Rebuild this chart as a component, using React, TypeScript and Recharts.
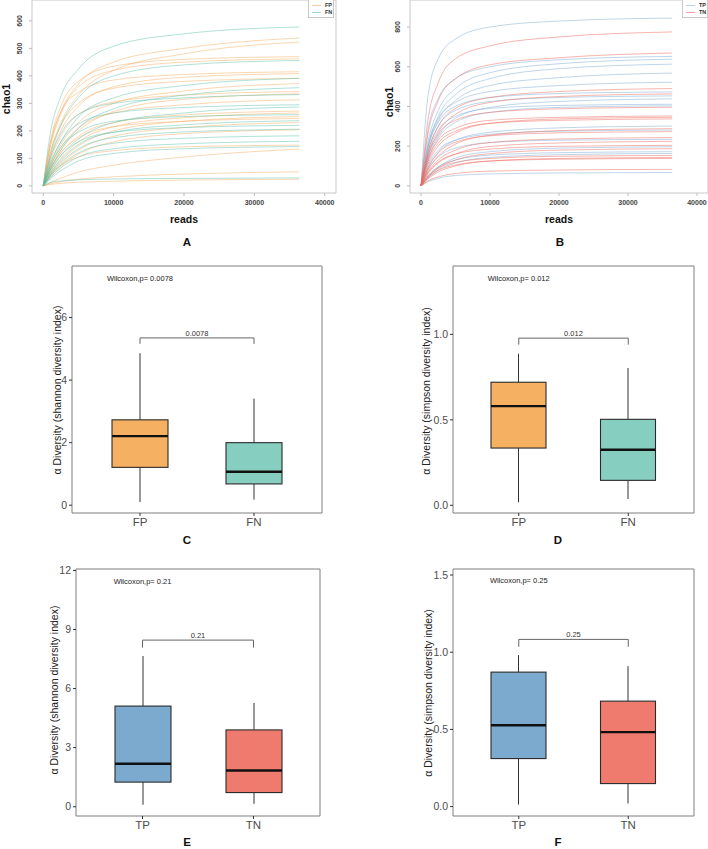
import React from 'react';
import {
  LineChart,
  Line,
  ComposedChart,
  Bar,
  XAxis,
  YAxis,
  ReferenceArea,
  ReferenceLine,
  ReferenceDot,
} from 'recharts';

// ---------- rarefaction curves (A, B) ----------
const readSteps = [0, 1000, 2500, 5000, 10000, 20000, 36400];
const readTicks = [0, 10000, 20000, 30000, 40000];
const readDomain = [-1600, 41600];

// chao1 at each step of readSteps
const fpCurves = [
  [0, 150, 270, 370, 450, 500, 538],
  [0, 120, 230, 330, 420, 480, 523],
  [0, 160, 290, 380, 435, 460, 470],
  [0, 140, 260, 360, 420, 450, 462],
  [0, 150, 270, 340, 385, 405, 415],
  [0, 100, 200, 290, 360, 395, 408],
  [0, 120, 220, 300, 355, 380, 391],
  [0, 70, 150, 230, 300, 345, 372],
  [0, 90, 180, 260, 305, 330, 343],
  [0, 60, 130, 200, 270, 315, 335],
  [0, 70, 140, 210, 265, 295, 313],
  [0, 60, 120, 180, 230, 258, 272],
  [0, 45, 100, 160, 215, 248, 265],
  [0, 40, 90, 145, 200, 235, 252],
  [0, 60, 120, 175, 215, 235, 245],
  [0, 35, 80, 130, 180, 212, 230],
  [0, 30, 70, 115, 160, 190, 204],
  [0, 40, 75, 105, 128, 142, 148],
  [0, 12, 28, 50, 75, 105, 134],
  [0, 8, 15, 24, 33, 43, 51],
  [0, 5, 9, 13, 17, 21, 24],
];
const fnCurves = [
  [0, 190, 325, 425, 508, 553, 578],
  [0, 110, 220, 320, 400, 440, 456],
  [0, 80, 160, 250, 320, 365, 391],
  [0, 60, 130, 210, 280, 330, 357],
  [0, 100, 190, 260, 300, 320, 332],
  [0, 80, 160, 225, 265, 285, 295],
  [0, 50, 110, 170, 230, 265, 287],
  [0, 70, 140, 195, 235, 252, 259],
  [0, 45, 95, 150, 195, 222, 237],
  [0, 55, 110, 160, 195, 212, 220],
  [0, 40, 85, 135, 175, 196, 206],
  [0, 35, 75, 120, 155, 173, 182],
  [0, 30, 65, 105, 135, 153, 162],
  [0, 25, 55, 90, 118, 135, 143],
  [0, 12, 18, 22, 25, 27, 29],
];
const tpCurves = [
  [0, 450, 640, 740, 800, 830, 845],
  [0, 280, 440, 540, 600, 635, 652],
  [0, 220, 380, 490, 570, 615, 638],
  [0, 200, 350, 460, 540, 590, 613],
  [0, 190, 330, 430, 505, 545, 568],
  [0, 200, 340, 420, 475, 505, 522],
  [0, 190, 320, 400, 445, 465, 473],
  [0, 170, 300, 380, 425, 445, 453],
  [0, 140, 250, 340, 395, 425, 438],
  [0, 160, 280, 350, 390, 405, 411],
  [0, 130, 240, 320, 370, 395, 403],
  [0, 90, 170, 230, 270, 292, 301],
  [0, 100, 180, 230, 260, 275, 281],
  [0, 80, 145, 190, 218, 230, 234],
  [0, 50, 95, 140, 172, 190, 197],
  [0, 50, 95, 130, 155, 167, 172],
  [0, 40, 80, 115, 143, 157, 163],
  [0, 20, 38, 52, 60, 65, 67],
];
const tnCurves = [
  [0, 330, 520, 640, 705, 750, 775],
  [0, 260, 430, 540, 610, 645, 669],
  [0, 170, 300, 390, 445, 475, 490],
  [0, 150, 270, 360, 420, 450, 463],
  [0, 150, 260, 330, 370, 388, 396],
  [0, 130, 230, 290, 330, 345, 352],
  [0, 110, 200, 265, 315, 337, 345],
  [0, 120, 215, 275, 315, 330, 337],
  [0, 80, 150, 210, 255, 278, 288],
  [0, 90, 165, 220, 252, 267, 273],
  [0, 70, 130, 180, 218, 236, 243],
  [0, 60, 115, 160, 198, 216, 224],
  [0, 65, 120, 160, 185, 199, 204],
  [0, 45, 90, 130, 162, 180, 187],
  [0, 45, 88, 118, 138, 149, 153],
  [0, 35, 70, 100, 125, 138, 143],
  [0, 40, 78, 105, 125, 134, 138],
  [0, 25, 45, 62, 74, 80, 83],
];

// ---------- alpha diversity boxplots (C-F): min, q1, median, q3, max ----------
const fGroups = ['FP', 'FN'];
const tGroups = ['TP', 'TN'];
const fpShannon = [0.1, 1.21, 2.21, 2.73, 4.86];
const fnShannon = [0.18, 0.68, 1.07, 2.0, 3.41];
const fpSimpson = [0.018, 0.335, 0.58, 0.72, 0.887];
const fnSimpson = [0.037, 0.146, 0.325, 0.503, 0.803];
const tpShannon = [0.1, 1.25, 2.18, 5.11, 7.65];
const tnShannon = [0.15, 0.72, 1.84, 3.9, 5.27];
const tpSimpson = [0.013, 0.311, 0.527, 0.871, 0.981];
const tnSimpson = [0.02, 0.149, 0.482, 0.683, 0.91];
const pValues = ['0.0078', '0.012', '0.21', '0.25'];

const FONT = "'Liberation Sans', Arial, Helvetica, sans-serif";
const COLORS = {
  fpLine: '#F5AE62',
  fnLine: '#52BDA8',
  tpLine: '#86B2D8',
  tnLine: '#EE685B',
  fpBox: '#F5B062',
  fnBox: '#86CEBF',
  tpBox: '#7BAACE',
  tnBox: '#EF7A6E',
};

function buildRows(groups: { key: string; curves: number[][] }[]) {
  return readSteps.map((reads, i) => {
    const row: Record<string, number> = { reads };
    groups.forEach((g) =>
      g.curves.forEach((c, j) => {
        row[`${g.key}${j}`] = c[i];
      }),
    );
    return row;
  });
}

function RotatedTick(props: any) {
  const { x, y, payload } = props;
  return (
    <text
      x={x}
      y={y}
      transform={`rotate(-90 ${x} ${y})`}
      textAnchor="middle"
      fontSize={7}
      fontWeight="bold"
      fill="#444"
    >
      {payload.value}
    </text>
  );
}

function RarefactionChart({
  rows,
  series,
  yDomain,
  yTicks,
  yAxisWidth,
  marginRight,
}: {
  rows: Record<string, number>[];
  series: { key: string; color: string; opacity: number }[];
  yDomain: number[];
  yTicks: number[];
  yAxisWidth: number;
  marginRight: number;
}) {
  return (
    <LineChart
      width={354}
      height={250}
      data={rows}
      margin={{ top: 0, right: marginRight, bottom: 0, left: 0 }}
    >
      <XAxis
        dataKey="reads"
        type="number"
        domain={readDomain}
        allowDataOverflow
        ticks={readTicks}
        interval={0}
        height={57}
        tickSize={3}
        tickMargin={4}
        axisLine={false}
        tickLine={{ stroke: '#bbb' }}
        tick={{ fontSize: 7, fontWeight: 'bold', fill: '#444' }}
      />
      <YAxis
        type="number"
        domain={yDomain}
        allowDataOverflow
        ticks={yTicks}
        interval={0}
        width={yAxisWidth}
        tickSize={3}
        tickMargin={7}
        axisLine={false}
        tickLine={{ stroke: '#bbb' }}
        tick={(p: any) => <RotatedTick {...p} />}
      />
      <ReferenceArea
        x1={readDomain[0]}
        x2={readDomain[1]}
        y1={yDomain[0]}
        y2={yDomain[1]}
        fill="none"
        stroke="#c8c8c8"
        ifOverflow="visible"
      />
      {series.map((s) => (
        <Line
          key={s.key}
          dataKey={s.key}
          type="monotone"
          stroke={s.color}
          strokeOpacity={s.opacity}
          strokeWidth={0.9}
          dot={false}
          isAnimationActive={false}
        />
      ))}
    </LineChart>
  );
}

function BoxShape(props: any) {
  const { x, y, width, height, payload } = props;
  const [lo, q1, med, q3, hi] = payload.stats;
  const top = Math.min(y, y + height);
  const h = Math.abs(height);
  const py = (v: number) => top + ((hi - v) / (hi - lo)) * h;
  const cx = x + width / 2;
  return (
    <g>
      <line x1={cx} x2={cx} y1={py(hi)} y2={py(q3)} stroke="#333" strokeWidth={1} />
      <line x1={cx} x2={cx} y1={py(q1)} y2={py(lo)} stroke="#333" strokeWidth={1} />
      <rect
        x={x}
        y={py(q3)}
        width={width}
        height={py(q1) - py(q3)}
        fill={payload.fill}
        stroke="#2b2b2b"
        strokeWidth={1.1}
      />
      <line x1={x} x2={x + width} y1={py(med)} y2={py(med)} stroke="#111" strokeWidth={2.4} />
    </g>
  );
}

function BoxChart({
  groups,
  stats,
  colors,
  yDomain,
  yTicks,
  decimals,
  pText,
  wilcoxY,
  bracketY,
  tipY,
  margin,
  barSize,
  height,
}: any) {
  const data = groups.map((name: string, i: number) => ({
    name,
    range: [stats[i][0], stats[i][4]],
    stats: stats[i],
    fill: colors[i],
  }));
  return (
    <ComposedChart width={354} height={height} data={data} margin={margin}>
      <XAxis
        dataKey="name"
        padding={{ left: 11, right: 11 }}
        height={22}
        tickSize={3}
        tickMargin={2}
        axisLine={{ stroke: '#7f7f7f' }}
        tickLine={{ stroke: '#333' }}
        tick={{ fontSize: 11.5, fill: '#4d4d4d' }}
      />
      <YAxis
        type="number"
        domain={yDomain}
        allowDataOverflow
        ticks={yTicks}
        interval={0}
        tickFormatter={(v: number) => v.toFixed(decimals)}
        width={30}
        tickSize={3}
        tickMargin={2}
        axisLine={{ stroke: '#7f7f7f' }}
        tickLine={{ stroke: '#333' }}
        tick={{ fontSize: 10.5, fill: '#4d4d4d' }}
      />
      <YAxis
        yAxisId="frame"
        orientation="right"
        type="number"
        domain={yDomain}
        allowDataOverflow
        ticks={[yDomain[0]]}
        tick={false}
        tickLine={false}
        width={1}
        axisLine={{ stroke: '#7f7f7f' }}
      />
      <ReferenceLine y={yDomain[1]} stroke="#7f7f7f" ifOverflow="visible" />
      <Bar dataKey="range" barSize={barSize} shape={BoxShape} isAnimationActive={false} />
      <ReferenceLine
        segment={[
          { x: groups[0], y: bracketY },
          { x: groups[1], y: bracketY },
        ]}
        stroke="#666"
        label={{ value: pText, position: 'top', offset: 2, fontSize: 7.5, fill: '#333' }}
      />
      <ReferenceLine
        segment={[
          { x: groups[0], y: bracketY },
          { x: groups[0], y: tipY },
        ]}
        stroke="#666"
      />
      <ReferenceLine
        segment={[
          { x: groups[1], y: bracketY },
          { x: groups[1], y: tipY },
        ]}
        stroke="#666"
      />
      <ReferenceDot
        x={groups[0]}
        y={wilcoxY}
        r={0}
        fill="none"
        stroke="none"
        label={{ value: `Wilcoxon,p= ${pText}`, position: 'center', fontSize: 7.5, fill: '#222' }}
      />
    </ComposedChart>
  );
}

function Caption({
  x,
  y,
  text,
  size,
  bold,
  rotate,
  color,
}: {
  x: number;
  y: number;
  text: string;
  size: number;
  bold?: boolean;
  rotate?: boolean;
  color?: string;
}) {
  return (
    <div
      style={{
        position: 'absolute',
        left: x,
        top: y,
        transform: `translate(-50%, -50%)${rotate ? ' rotate(-90deg)' : ''}`,
        fontSize: size,
        fontWeight: bold ? 'bold' : 'normal',
        color: color ?? '#111',
        whiteSpace: 'nowrap',
        lineHeight: 1,
      }}
    >
      {text}
    </div>
  );
}

function MiniLegend({ left, items }: { left: number; items: { label: string; color: string }[] }) {
  return (
    <div
      style={{
        position: 'absolute',
        left,
        top: -1,
        width: 26,
        height: 19,
        border: '1px solid #c8c8c8',
        background: '#fff',
        boxSizing: 'border-box',
      }}
    >
      {items.map((it, i) => (
        <div
          key={it.label}
          style={{ position: 'absolute', left: 3, top: 3 + i * 6.5, display: 'flex', alignItems: 'center' }}
        >
          <div style={{ width: 9, height: 0, borderTop: `1px solid ${it.color}`, opacity: 0.6 }} />
          <span style={{ marginLeft: 4, fontSize: 5.5, fontWeight: 'bold', color: '#333', lineHeight: 1 }}>
            {it.label}
          </span>
        </div>
      ))}
    </div>
  );
}

export default function App() {
  const rowsA = buildRows([
    { key: 'fp', curves: fpCurves },
    { key: 'fn', curves: fnCurves },
  ]);
  const seriesA = [
    ...fpCurves.map((_, j) => ({ key: `fp${j}`, color: COLORS.fpLine, opacity: 0.55 })),
    ...fnCurves.map((_, j) => ({ key: `fn${j}`, color: COLORS.fnLine, opacity: 0.5 })),
  ];
  const rowsB = buildRows([
    { key: 'tp', curves: tpCurves },
    { key: 'tn', curves: tnCurves },
  ]);
  const seriesB = [
    ...tpCurves.map((_, j) => ({ key: `tp${j}`, color: COLORS.tpLine, opacity: 0.6 })),
    ...tnCurves.map((_, j) => ({ key: `tn${j}`, color: COLORS.tnLine, opacity: 0.55 })),
  ];

  return (
    <div
      style={{
        position: 'absolute',
        left: 0,
        top: 0,
        width: 708,
        height: 849,
        background: '#fff',
        fontFamily: FONT,
        overflow: 'hidden',
      }}
    >
      {/* A */}
      <div style={{ position: 'absolute', left: 0, top: 0 }}>
        <RarefactionChart
          rows={rowsA}
          series={seriesA}
          yDomain={[-26, 676]}
          yTicks={[0, 100, 200, 300, 400, 500, 600]}
          yAxisWidth={32}
          marginRight={18}
        />
      </div>
      <MiniLegend
        left={308}
        items={[
          { label: 'FP', color: COLORS.fpLine },
          { label: 'FN', color: COLORS.fnLine },
        ]}
      />
      <Caption x={6} y={99} text="chao1" size={10.5} bold rotate />
      <Caption x={184} y={219} text="reads" size={10.5} bold />
      <Caption x={187} y={243} text="A" size={11.5} bold />

      {/* B */}
      <div style={{ position: 'absolute', left: 354, top: 0 }}>
        <RarefactionChart
          rows={rowsB}
          series={seriesB}
          yDomain={[-36, 936]}
          yTicks={[0, 200, 400, 600, 800]}
          yAxisWidth={56}
          marginRight={0}
        />
      </div>
      <MiniLegend
        left={682}
        items={[
          { label: 'TP', color: COLORS.tpLine },
          { label: 'TN', color: COLORS.tnLine },
        ]}
      />
      <Caption x={389} y={102} text="chao1" size={10.5} bold rotate />
      <Caption x={559} y={219} text="reads" size={10.5} bold />
      <Caption x={560} y={243} text="B" size={11.5} bold />

      {/* C */}
      <div style={{ position: 'absolute', left: 0, top: 250 }}>
        <BoxChart
          groups={fGroups}
          stats={[fpShannon, fnShannon]}
          colors={[COLORS.fpBox, COLORS.fnBox]}
          yDomain={[-0.25, 7.65]}
          yTicks={[0, 2, 4, 6]}
          decimals={0}
          pText={pValues[0]}
          wilcoxY={7.27}
          bracketY={5.35}
          tipY={5.16}
          margin={{ top: 16, right: 31, bottom: 15, left: 42 }}
          barSize={56}
          height={300}
        />
      </div>
      <Caption x={57} y={390} text="α Diversity (shannon diversity index)" size={10.5} rotate color="#222" />
      <Caption x={187} y={541} text="C" size={11.5} bold />

      {/* D */}
      <div style={{ position: 'absolute', left: 354, top: 250 }}>
        <BoxChart
          groups={fGroups}
          stats={[fpSimpson, fnSimpson]}
          colors={[COLORS.fpBox, COLORS.fnBox]}
          yDomain={[-0.045, 1.4]}
          yTicks={[0, 0.5, 1]}
          decimals={1}
          pText={pValues[1]}
          wilcoxY={1.33}
          bracketY={0.978}
          tipY={0.94}
          margin={{ top: 16, right: 13, bottom: 15, left: 69 }}
          barSize={55}
          height={300}
        />
      </div>
      <Caption x={426} y={391} text="α Diversity (simpson diversity index)" size={10.5} rotate color="#222" />
      <Caption x={558} y={541} text="D" size={11.5} bold />

      {/* E */}
      <div style={{ position: 'absolute', left: 0, top: 550 }}>
        <BoxChart
          groups={tGroups}
          stats={[tpShannon, tnShannon]}
          colors={[COLORS.tpBox, COLORS.tnBox]}
          yDomain={[-0.47, 12.07]}
          yTicks={[0, 3, 6, 9, 12]}
          decimals={0}
          pText={pValues[2]}
          wilcoxY={11.42}
          bracketY={8.46}
          tipY={8.08}
          margin={{ top: 19, right: 33, bottom: 11, left: 46 }}
          barSize={56}
          height={299}
        />
      </div>
      <Caption x={54} y={690} text="α Diversity (shannon diversity index)" size={10.5} rotate color="#222" />
      <Caption x={187} y={843} text="E" size={11.5} bold />

      {/* F */}
      <div style={{ position: 'absolute', left: 354, top: 550 }}>
        <BoxChart
          groups={tGroups}
          stats={[tpSimpson, tnSimpson]}
          colors={[COLORS.tpBox, COLORS.tnBox]}
          yDomain={[-0.061, 1.539]}
          yTicks={[0, 0.5, 1, 1.5]}
          decimals={1}
          pText={pValues[3]}
          wilcoxY={1.463}
          bracketY={1.083}
          tipY={1.035}
          margin={{ top: 19, right: 13, bottom: 11, left: 69 }}
          barSize={55}
          height={299}
        />
      </div>
      <Caption x={428} y={693} text="α Diversity (simpson diversity index)" size={10.5} rotate color="#222" />
      <Caption x={558} y={843} text="F" size={11.5} bold />
    </div>
  );
}
